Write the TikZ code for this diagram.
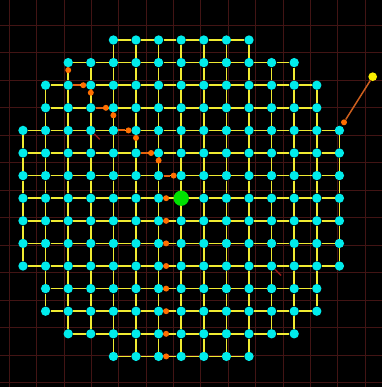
\documentclass[tikz,border=0pt]{standalone}
\definecolor{cy}{RGB}{0,235,235}
\definecolor{yl}{RGB}{240,235,50}
\definecolor{gr}{RGB}{0,225,0}
\definecolor{orn}{RGB}{255,110,0}
\definecolor{orl}{RGB}{230,100,15}
\definecolor{grd}{RGB}{66,20,20}
\definecolor{tk}{RGB}{150,25,25}
\definecolor{yn}{RGB}{250,240,0}
\definecolor{lnk}{RGB}{205,95,30}
\begin{document}
\begin{tikzpicture}[x=0.3mm,y=-0.3mm,
  cnode/.style={circle,fill=cy,inner sep=0pt,minimum size=2.8mm},
  gnode/.style={circle,fill=gr,inner sep=0pt,minimum size=4.6mm},
  odot/.style={circle,fill=orn,inner sep=0pt,minimum size=1.8mm},
  ynode/.style={circle,fill=yn,inner sep=0pt,minimum size=2.6mm},
  edge/.style={draw=yl,line width=0.5mm},
  opath/.style={draw=orl,line width=0.55mm},
  link/.style={draw=lnk,line width=0.45mm},
  gridline/.style={draw=grd,line width=0.3mm},
  tick/.style={draw=tk,line width=0.45mm}]
\fill[black] (0,0) rectangle (382,387);
\useasboundingbox (0,0) rectangle (382,387);
% background grid
\foreach \k in {0,...,13}{
  \draw[gridline] ({9.5+27.35*\k},0) -- ({9.5+27.35*\k},387);
  \draw[gridline] (0,{25+27.5*\k}) -- (382,{25+27.5*\k});
}
% nodes
\foreach \r/\a in {0/4,1/2,2/1,3/1,4/0,5/0,6/0,7/0,8/0,9/0,10/0,11/1,12/1,13/2,14/4}{
  \pgfmathtruncatemacro{\b}{14-\a}
  \foreach \c in {\a,...,\b}
    \node[cnode] (n-\c-\r) at ({23+22.6*\c},{40+22.6*\r}) {};
}
% horizontal edges
\foreach \r/\a in {0/4,1/2,2/1,3/1,4/0,5/0,6/0,7/0,8/0,9/0,10/0,11/1,12/1,13/2,14/4}{
  \pgfmathtruncatemacro{\b}{13-\a}
  \foreach \c in {\a,...,\b}{
    \pgfmathtruncatemacro{\d}{\c+1}
    \draw[edge] (n-\c-\r) -- (n-\d-\r);
  }
}
% vertical edges
\foreach \r/\a in {0/4,1/2,2/1,3/1,4/0,5/0,6/0,7/0,8/0,9/0,10/1,11/1,12/2,13/4}{
  \pgfmathtruncatemacro{\b}{14-\a}
  \pgfmathtruncatemacro{\s}{\r+1}
  \foreach \c in {\a,...,\b}
    \draw[edge] (n-\c-\r) -- (n-\c-\s);
}
% orange path
\foreach \i/\c/\r/\dx/\dy in {1/2/1/0/0.333,2/2/2/0.667/0,3/3/2/0/0.333,4/3/3/0.667/0,5/4/3/0/0.333,6/4/4/0.667/0,7/5/4/0/0.333,8/5/5/0.667/0,9/6/5/0/0.333,10/6/6/0.667/0,11/6/7/0.333/0,12/6/8/0.333/0,13/6/9/0.333/0,14/6/10/0.333/0,15/6/11/0.333/0,16/6/12/0.333/0,17/6/13/0.333/0,18/6/14/0.333/0}{
  \node[odot] (o\i) at ({23+22.6*(\c+\dx)},{40+22.6*(\r+\dy)}) {};
  \draw[opath] (n-\c-\r) -- (o\i);
}
% goal
\node[gnode] (g) at (n-7-7) {};
% top-right marker
\node[ynode] (ym) at (372.7,76.7) {};
\node[odot] (oy) at (344,122.3) {};
\draw[link] (ym) -- (oy);
% heading ticks
\draw[tick] (n-3-4.-45) -- ++(5.5,5.5);
\draw[tick] (n-11-10.-45) -- ++(6,6);
\end{tikzpicture}
\end{document}
